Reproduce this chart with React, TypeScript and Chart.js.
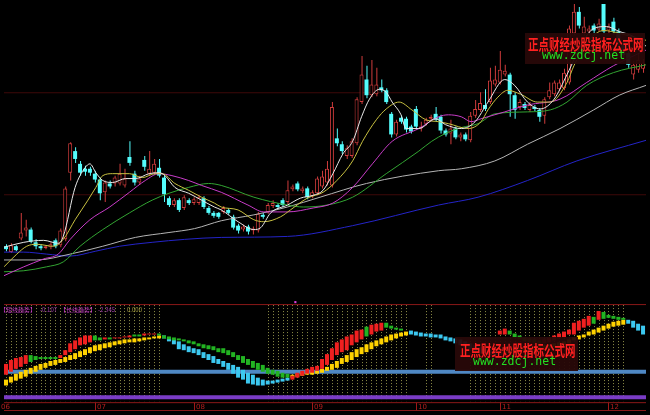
import React, { useEffect, useRef } from 'react';
import { Chart, registerables } from 'chart.js';

Chart.register(...registerables);

// ---------- price candles (k = 0..129) ----------
const OPEN = [
  7.53, 7.47, 7.53, 7.61, 7.69, 7.70, 7.57, 7.53, 7.51, 7.52,
  7.59, 7.54, 7.60, 8.28, 8.50, 8.37, 8.32, 8.32, 8.27, 8.21,
  8.08, 8.17, 8.17, 8.17, 8.15, 8.44, 8.27, 8.18, 8.41, 8.27,
  8.28, 8.33, 8.23, 8.02, 7.95, 8.00, 7.92, 8.00, 7.97, 7.97,
  8.02, 7.92, 7.87, 7.87, 7.88, 7.90, 7.83, 7.74, 7.70, 7.73,
  7.69, 7.69, 7.85, 7.88, 7.94, 7.95, 8.00, 7.98, 8.11, 8.17,
  8.09, 8.12, 8.04, 8.07, 8.14, 8.18, 8.15, 8.63, 8.57, 8.45,
  8.45, 8.58, 9.00, 9.23, 9.07, 9.08, 9.15, 9.12, 8.88, 8.67,
  8.84, 8.83, 8.75, 8.93, 8.73, 8.78, 8.83, 8.88, 8.85, 8.71,
  8.68, 8.73, 8.64, 8.67, 8.61, 8.86, 8.92, 8.97, 9.00, 9.18,
  9.20, 9.28, 9.28, 9.07, 8.95, 8.98, 8.92, 8.95, 8.92, 8.86,
  9.05, 9.08, 9.13, 9.14, 9.20, 9.70, 9.92, 9.70, 9.72, 9.78,
  9.74, 10.03, 9.73, 9.82, 9.72, 9.60, 9.50, 9.28, 9.33, 9.34,
];
const HIGH = [
  7.55, 7.56, 7.54, 7.87, 7.80, 7.72, 7.60, 7.55, 7.54, 7.57,
  7.61, 7.71, 8.14, 8.59, 8.54, 8.40, 8.35, 8.34, 8.30, 8.23,
  8.20, 8.20, 8.25, 8.37, 8.32, 8.60, 8.30, 8.25, 8.45, 8.50,
  8.42, 8.42, 8.25, 8.04, 8.02, 8.02, 8.05, 8.02, 8.03, 8.05,
  8.04, 7.94, 7.89, 7.88, 7.94, 7.92, 7.85, 7.76, 7.75, 7.75,
  7.73, 7.88, 7.87, 7.97, 8.00, 7.97, 8.02, 8.20, 8.16, 8.19,
  8.14, 8.14, 8.10, 8.24, 8.30, 8.40, 9.00, 8.73, 8.60, 8.56,
  8.63, 9.05, 9.47, 9.37, 9.43, 9.35, 9.23, 9.14, 8.90, 8.82,
  8.86, 8.85, 8.77, 8.96, 8.80, 8.84, 8.87, 8.95, 8.87, 8.73,
  8.82, 8.75, 8.69, 8.69, 8.90, 9.02, 9.10, 9.13, 9.35, 9.37,
  9.52, 9.38, 9.30, 9.10, 9.03, 9.00, 9.00, 8.97, 8.94, 9.05,
  9.20, 9.22, 9.23, 9.34, 9.78, 10.00, 9.97, 9.87, 9.78, 9.80,
  9.85, 10.05, 9.80, 9.86, 9.75, 9.62, 9.52, 9.42, 9.50, 9.44,
];
const LOW = [
  7.48, 7.46, 7.48, 7.59, 7.63, 7.56, 7.50, 7.49, 7.50, 7.50,
  7.51, 7.52, 7.58, 8.20, 8.38, 8.25, 8.25, 8.25, 8.18, 8.00,
  7.98, 8.12, 8.14, 8.15, 8.13, 8.35, 8.15, 8.16, 8.30, 8.25,
  8.26, 8.23, 7.98, 7.93, 7.93, 7.88, 7.90, 7.95, 7.95, 7.95,
  7.91, 7.85, 7.82, 7.81, 7.86, 7.85, 7.70, 7.66, 7.68, 7.65,
  7.65, 7.67, 7.81, 7.86, 7.92, 7.91, 7.93, 7.96, 8.09, 8.09,
  8.07, 8.01, 8.02, 8.05, 8.12, 8.15, 8.13, 8.55, 8.47, 8.42,
  8.43, 8.56, 8.98, 9.04, 9.05, 9.06, 9.10, 8.98, 8.64, 8.65,
  8.78, 8.69, 8.68, 8.72, 8.70, 8.76, 8.81, 8.80, 8.68, 8.65,
  8.57, 8.62, 8.60, 8.60, 8.59, 8.84, 8.90, 8.91, 8.98, 9.16,
  9.18, 9.26, 8.85, 8.83, 8.92, 8.92, 8.90, 8.91, 8.80, 8.78,
  9.03, 9.06, 9.11, 9.12, 9.18, 9.68, 9.75, 9.67, 9.68, 9.70,
  9.72, 9.70, 9.70, 9.69, 9.57, 9.45, 9.35, 9.23, 9.30, 9.30,
];
const CLOSE = [
  7.50, 7.54, 7.49, 7.67, 7.72, 7.58, 7.53, 7.51, 7.53, 7.55,
  7.53, 7.69, 8.12, 8.58, 8.42, 8.28, 8.29, 8.28, 8.21, 8.07,
  8.18, 8.14, 8.23, 8.27, 8.22, 8.38, 8.18, 8.22, 8.34, 8.32,
  8.37, 8.25, 8.06, 7.95, 8.00, 7.90, 8.03, 7.97, 8.01, 8.03,
  7.93, 7.87, 7.84, 7.83, 7.92, 7.87, 7.72, 7.69, 7.73, 7.68,
  7.71, 7.86, 7.83, 7.95, 7.97, 7.93, 7.95, 8.10, 8.14, 8.11,
  8.12, 8.03, 8.08, 8.22, 8.24, 8.32, 8.95, 8.58, 8.50, 8.53,
  8.60, 9.03, 9.28, 9.07, 9.18, 9.18, 9.12, 9.00, 8.67, 8.80,
  8.80, 8.72, 8.70, 8.75, 8.75, 8.82, 8.85, 8.82, 8.71, 8.67,
  8.73, 8.64, 8.67, 8.62, 8.86, 8.93, 8.99, 8.93, 9.22, 9.23,
  9.33, 9.32, 9.08, 8.92, 9.00, 8.94, 8.97, 8.93, 8.85, 9.03,
  9.12, 9.20, 9.20, 9.30, 9.75, 9.92, 9.78, 9.77, 9.75, 9.73,
  9.80, 9.72, 9.77, 9.72, 9.60, 9.48, 9.38, 9.38, 9.43, 9.40,
];

// ---------- moving averages, read as [index, price] ----------
const MA5: [number, number][] = [
  [-0.4, 7.52], [3.6, 7.57], [7.6, 7.59], [10.6, 7.56], [11.6, 7.63], [14.0, 8.13], [16.0, 8.33],
  [17.0, 8.37], [18.2, 8.28], [19.6, 8.20], [21.6, 8.18], [24.2, 8.22], [26.2, 8.22], [29.0, 8.27],
  [31.0, 8.28], [32.2, 8.25], [34.2, 8.13], [37.0, 8.07], [39.6, 8.00], [42.2, 7.93], [43.6, 7.90],
  [47.0, 7.78], [50.2, 7.70], [51.6, 7.72], [53.6, 7.87], [57.0, 7.95], [59.6, 8.02], [62.2, 8.05],
  [64.2, 8.10], [66.2, 8.27], [68.2, 8.47], [70.2, 8.60], [72.0, 8.85], [73.6, 9.03], [75.6, 9.13],
  [77.0, 9.10], [78.2, 9.00], [80.0, 8.87], [81.0, 8.73], [83.6, 8.73], [87.0, 8.83], [89.0, 8.77],
  [92.2, 8.73], [95.0, 8.80], [97.6, 9.00], [101.0, 9.23], [103.0, 9.17], [105.6, 9.00], [108.2, 8.93],
  [111.0, 9.03], [113.6, 9.28], [117.0, 9.63], [119.0, 9.75], [121.6, 9.77], [124.2, 9.72], [127.0, 9.67],
  [129.6, 9.57],
];
const MA10: [number, number][] = [
  [-0.4, 7.32], [2.2, 7.45], [4.2, 7.53], [6.2, 7.55], [9.6, 7.53], [11.6, 7.60], [14.0, 7.80],
  [16.6, 8.00], [18.2, 8.13], [19.6, 8.25], [21.6, 8.27], [25.0, 8.27], [27.6, 8.23], [30.2, 8.27],
  [31.6, 8.27], [34.2, 8.17], [37.0, 8.10], [39.6, 8.03], [42.2, 7.97], [43.6, 7.93], [47.0, 7.90],
  [50.2, 7.80], [52.2, 7.78], [55.6, 7.83], [57.6, 7.90], [61.0, 8.02], [64.2, 8.08], [67.0, 8.20],
  [70.2, 8.40], [72.2, 8.60], [75.0, 8.82], [77.0, 8.93], [79.6, 9.00], [82.2, 8.92], [85.0, 8.82],
  [87.6, 8.80], [89.6, 8.78], [93.6, 8.73], [96.2, 8.80], [97.6, 8.92], [99.6, 9.05], [101.6, 9.12],
  [104.2, 9.08], [107.6, 9.00], [110.2, 9.00], [113.6, 9.20], [115.0, 9.37], [117.6, 9.60], [121.0, 9.73],
  [124.2, 9.70], [129.6, 9.63],
];
const MA20: [number, number][] = [
  [-0.4, 7.23], [3.6, 7.32], [7.6, 7.40], [10.6, 7.45], [13.0, 7.60], [17.0, 7.80], [21.0, 7.93],
  [25.0, 8.08], [28.2, 8.20], [31.0, 8.27], [33.6, 8.25], [37.0, 8.20], [39.6, 8.15], [43.6, 8.08],
  [49.0, 7.95], [52.2, 7.88], [57.0, 7.88], [62.2, 7.92], [66.2, 7.97], [70.2, 8.13], [74.2, 8.37],
  [78.2, 8.60], [83.6, 8.73], [87.6, 8.85], [89.6, 8.87], [92.2, 8.85], [94.2, 8.80], [96.2, 8.83],
  [101.0, 8.90], [105.6, 8.97], [112.2, 9.03], [117.6, 9.20], [123.0, 9.37], [129.6, 9.53],
];
const MA30: [number, number][] = [
  [-0.4, 7.27], [3.6, 7.28], [8.2, 7.32], [11.6, 7.37], [15.0, 7.53], [19.6, 7.70], [25.0, 7.87],
  [29.6, 8.00], [33.0, 8.07], [37.0, 8.13], [41.0, 8.17], [43.6, 8.15], [50.2, 8.03], [57.0, 7.95],
  [60.2, 7.93], [65.0, 7.95], [70.2, 8.03], [77.0, 8.27], [83.6, 8.50], [86.2, 8.60], [89.0, 8.68],
  [92.2, 8.74], [95.6, 8.78], [99.0, 8.88], [105.6, 8.90], [110.2, 8.92], [113.6, 9.00], [117.6, 9.17],
  [123.0, 9.30], [129.6, 9.38],
];
const MA60: [number, number][] = [
  [-0.4, 7.39], [6.2, 7.39], [13.0, 7.45], [19.6, 7.53], [26.2, 7.62], [33.0, 7.67], [38.2, 7.71],
  [43.6, 7.79], [50.2, 7.85], [57.0, 7.93], [63.6, 8.03], [73.0, 8.17], [87.6, 8.30], [92.2, 8.32],
  [99.0, 8.40], [105.6, 8.57], [112.2, 8.73], [119.0, 8.92], [124.2, 9.07], [129.6, 9.17],
];
const MA120: [number, number][] = [
  [-0.4, 7.47], [3.6, 7.47], [8.2, 7.45], [13.0, 7.43], [18.2, 7.48], [23.0, 7.53], [29.6, 7.57],
  [36.2, 7.60], [43.6, 7.62], [57.0, 7.63], [70.2, 7.74], [87.6, 7.95], [95.6, 8.03], [105.6, 8.20],
  [115.6, 8.40], [129.6, 8.61],
];

// ---------- indicator sticks (lower panel) ----------
const SHORT_HI: (number | null)[] = [
  0.08, 0.12, 0.14, 0.15, 0.17, 0.17, 0.16, 0.15, 0.15, 0.15,
  0.15, 0.17, 0.22, 0.29, 0.32, 0.35, 0.37, 0.37, 0.37, 0.35,
  0.35, 0.35, 0.35, 0.35, 0.36, 0.37, 0.38, 0.38, 0.39, 0.39,
  0.39, 0.39, 0.37, 0.36, 0.35, 0.34, 0.33, 0.32, 0.31, 0.29,
  0.28, 0.27, 0.26, 0.24, 0.24, 0.22, 0.20, 0.17, 0.16, 0.13,
  0.11, 0.09, 0.07, 0.04, 0.02, 0.01, -0.01, -0.02, -0.04, -0.01,
  0.01, 0.03, 0.05, 0.06, 0.13, 0.18, 0.24, 0.30, 0.33, 0.36,
  0.38, 0.42, 0.43, 0.46, 0.48, 0.49, 0.50, 0.50, 0.47, 0.45,
  0.44, null, null, null, null, null, null, null, null, null,
  null, null, null, null, null, null, null, null, null, null,
  0.42, 0.44, 0.42, 0.39, 0.37, 0.35, 0.34, 0.33, 0.32, 0.33,
  0.35, 0.37, 0.39, 0.41, 0.43, 0.50, 0.52, 0.54, 0.57, 0.56,
  0.62, 0.61, 0.58, 0.57, 0.56, 0.55, null, null, null, null,
];
const SHORT_LO: (number | null)[] = [
  -0.03, 0.00, 0.03, 0.05, 0.08, 0.10, 0.12, 0.13, 0.13, 0.13,
  0.13, 0.14, 0.17, 0.20, 0.23, 0.27, 0.28, 0.30, 0.32, 0.32,
  0.33, 0.33, 0.34, 0.34, 0.35, 0.35, 0.36, 0.36, 0.37, 0.38,
  0.38, 0.37, 0.34, 0.33, 0.32, 0.32, 0.31, 0.29, 0.28, 0.26,
  0.24, 0.23, 0.22, 0.20, 0.19, 0.17, 0.15, 0.12, 0.09, 0.07,
  0.04, 0.02, 0.00, -0.02, -0.03, -0.05, -0.06, -0.06, -0.08, -0.06,
  -0.04, -0.02, -0.01, 0.01, 0.03, 0.07, 0.12, 0.17, 0.20, 0.22,
  0.27, 0.30, 0.33, 0.36, 0.38, 0.41, 0.42, 0.45, 0.44, 0.43,
  0.42, null, null, null, null, null, null, null, null, null,
  null, null, null, null, null, null, null, null, null, null,
  0.38, 0.38, 0.38, 0.35, 0.33, 0.31, 0.30, 0.29, 0.28, 0.29,
  0.30, 0.32, 0.34, 0.35, 0.38, 0.38, 0.42, 0.45, 0.47, 0.49,
  0.53, 0.54, 0.55, 0.54, 0.53, 0.53, null, null, null, null,
];
const SHORT_DIR =
  'rrrrrggggg' + 'grrrrrrrgg' + 'rgrrrrggrr' + 'rggggggggg' + 'gggggggggg' +
  'ggggggggrr' + 'rrrrrrrrrr' + 'rrrgrrrggg' + 'g.........' + '..........' +
  'rrgggggggr' + 'rrrrrrrrrg' + 'rggggg....';

const LONG_HI: number[] = [
  -0.08, -0.05, -0.02, 0.00, 0.02, 0.04, 0.06, 0.08, 0.09, 0.11,
  0.12, 0.13, 0.15, 0.17, 0.19, 0.21, 0.23, 0.25, 0.27, 0.28,
  0.29, 0.30, 0.31, 0.32, 0.33, 0.33, 0.34, 0.34, 0.35, 0.35,
  0.36, 0.37, 0.37, 0.35, 0.33, 0.31, 0.28, 0.26, 0.24, 0.23,
  0.20, 0.18, 0.16, 0.13, 0.11, 0.09, 0.07, 0.05, 0.02, -0.01,
  -0.03, -0.06, -0.08, -0.09, -0.09, -0.08, -0.07, -0.06, -0.03, -0.02,
  -0.01, -0.01, 0.00, 0.01, 0.03, 0.05, 0.08, 0.11, 0.14, 0.17,
  0.20, 0.23, 0.25, 0.28, 0.30, 0.32, 0.34, 0.36, 0.38, 0.39,
  0.40, 0.41, 0.42, 0.41, 0.40, 0.39, 0.39, 0.38, 0.38, 0.36,
  0.35, 0.34, 0.33, 0.31, 0.29, 0.27, 0.25, 0.23, 0.22, 0.21,
  0.21, 0.22, 0.23, 0.24, 0.24, 0.25, 0.25, 0.26, 0.26, 0.27,
  0.28, 0.29, 0.30, 0.31, 0.33, 0.35, 0.37, 0.38, 0.41, 0.43,
  0.45, 0.47, 0.49, 0.51, 0.52, 0.53, 0.53, 0.52, 0.49, 0.47,
];
const LONG_LO: number[] = [
  -0.14, -0.11, -0.09, -0.07, -0.05, -0.02, 0.00, 0.02, 0.04, 0.06,
  0.07, 0.09, 0.10, 0.12, 0.13, 0.15, 0.17, 0.19, 0.21, 0.22,
  0.24, 0.25, 0.27, 0.28, 0.29, 0.30, 0.30, 0.31, 0.32, 0.33,
  0.34, 0.34, 0.34, 0.31, 0.28, 0.23, 0.22, 0.20, 0.19, 0.17,
  0.14, 0.12, 0.09, 0.08, 0.05, 0.02, -0.02, -0.06, -0.08, -0.12,
  -0.13, -0.14, -0.14, -0.13, -0.12, -0.11, -0.10, -0.09, -0.06, -0.05,
  -0.04, -0.03, -0.03, -0.02, -0.01, 0.01, 0.02, 0.04, 0.08, 0.10,
  0.12, 0.15, 0.18, 0.20, 0.23, 0.26, 0.28, 0.30, 0.32, 0.34,
  0.36, 0.37, 0.38, 0.37, 0.36, 0.36, 0.35, 0.35, 0.34, 0.32,
  0.31, 0.29, 0.27, 0.25, 0.23, 0.21, 0.19, 0.18, 0.17, 0.17,
  0.17, 0.18, 0.19, 0.20, 0.20, 0.21, 0.21, 0.22, 0.22, 0.23,
  0.24, 0.25, 0.26, 0.27, 0.29, 0.32, 0.33, 0.35, 0.37, 0.38,
  0.40, 0.42, 0.44, 0.46, 0.47, 0.48, 0.49, 0.45, 0.42, 0.38,
];
const LONG_DIR =
  'yyyyyyyyyy' + 'yyyyyyyyyy' + 'yyyyyyyyyy' + 'yycccccccc' + 'cccccccccc' +
  'ccccccccyy' + 'yyyyyyyyyy' + 'yyyyyyyyyy' + 'yycccccccc' + 'cccccccccc' +
  'cyyyyyyyyy' + 'yyyyyyyyyy' + 'yyyyyycccc';

const SIGNAL_RANGES: [number, number][] = [[0, 31], [53, 81], [85, 86], [94, 125]];
const MARKS = [{ x: 58.6, y: 0.71 }];

const MONTH_LABELS = ['06', '07', '08', '09', '10', '11', '12'];
const MONTH_POS = [-1.5, 18, 38, 62, 83, 100, 122];

const PRICE_GRID = [9.095, 8.055];
const IND_GRID = [0.685, -0.315, -0.395];
const IND_ZERO = 0;
const IND_FLOOR = -0.26;
const SIGNAL_TOP = 0.68;
const SIGNAL_BOTTOM = -0.3;

const HEADER_TEXTS = ['【短线趋势】', '-0.107', '【长线趋势】', '-2.345', '0.000'];
const WM_TITLE = '正点财经炒股指标公式网';
const WM_URL = 'www.zdcj.net';

// ---------- scale ranges ----------
const X_MIN = -0.4, X_MAX = 129.6;
const XW_MIN = -0.5, XW_MAX = 129.5;
const PRICE_MIN = 5.85, PRICE_MAX = 10.0;
const IND_MIN = -0.4, IND_MAX = 3.75;

const UP = '#d03c3c';
const DOWN = '#54fcfc';

function buildSticks(hi: (number | null)[], lo: (number | null)[], dir: string, upKey: string, upColor: string, downColor: string) {
  const data: any[] = [];
  const colors: string[] = [];
  hi.forEach((h, k) => {
    const l = lo[k];
    if (h == null || l == null || dir[k] === '.') return;
    data.push({ x: k, y: [l, h] });
    colors.push(dir[k] === upKey ? upColor : downColor);
  });
  return { data, colors };
}

function hline(v: number, color: string, width: number, yAxisID: string, order: number) {
  return {
    type: 'line',
    data: [{ x: X_MIN, y: v }, { x: X_MAX, y: v }],
    borderColor: color,
    borderWidth: width,
    pointRadius: 0,
    xAxisID: 'x',
    yAxisID,
    order,
  };
}

function maLine(pts: [number, number][], color: string, order: number) {
  return {
    type: 'line',
    data: pts.map(([x, y]) => ({ x, y })),
    borderColor: color,
    borderWidth: 1,
    pointRadius: 0,
    cubicInterpolationMode: 'monotone',
    xAxisID: 'x',
    yAxisID: 'y',
    order,
  };
}

const overlayPlugin = {
  id: 'overlay',
  beforeDatasetsDraw(chart: any) {
    const { ctx } = chart;
    const xs = chart.scales.x;
    const y2 = chart.scales.y2;
    const top = y2.getPixelForValue(SIGNAL_TOP);
    const bottom = y2.getPixelForValue(SIGNAL_BOTTOM);
    ctx.save();
    ctx.strokeStyle = '#8e8e48';
    ctx.lineWidth = 1;
    ctx.setLineDash([1, 2]);
    SIGNAL_RANGES.forEach(([a, b]) => {
      for (let k = a; k <= b; k++) {
        const px = Math.round(xs.getPixelForValue(k)) + 0.5;
        ctx.beginPath();
        ctx.moveTo(px, top);
        ctx.lineTo(px, bottom);
        ctx.stroke();
      }
    });
    ctx.restore();
  },
  afterDraw(chart: any) {
    const { ctx } = chart;
    const xs = chart.scales.x;
    const y2 = chart.scales.y2;
    const t = y2.getPixelForValue(IND_GRID[1]);
    const b = y2.getPixelForValue(IND_GRID[2]);
    ctx.save();
    ctx.strokeStyle = '#a01818';
    ctx.fillStyle = '#b41e1e';
    ctx.lineWidth = 1;
    ctx.font = '7px "DejaVu Sans"';
    ctx.textBaseline = 'middle';
    MONTH_LABELS.forEach((lab, i) => {
      const px = Math.round(xs.getPixelForValue(MONTH_POS[i])) + 0.5;
      ctx.beginPath();
      ctx.moveTo(px, t);
      ctx.lineTo(px, b);
      ctx.stroke();
      ctx.fillText(lab, px + 1.5, (t + b) / 2 + 0.5);
    });
    ctx.restore();
  },
};

export default function App() {
  const ref = useRef<HTMLCanvasElement | null>(null);

  useEffect(() => {
    if (!ref.current) return;
    const ks = OPEN.map((_, k) => k);
    const up = ks.map((k) => CLOSE[k] >= OPEN[k]);
    const shortSticks = buildSticks(SHORT_HI, SHORT_LO, SHORT_DIR, 'r', '#f02020', '#22b422');
    const longSticks = buildSticks(LONG_HI, LONG_LO, LONG_DIR, 'y', '#ffd200', '#3cc8f0');

    const datasets: any[] = [
      ...PRICE_GRID.map((v) => hline(v, '#3e0808', 1, 'y', 30)),
      ...IND_GRID.map((v) => hline(v, '#8a1818', 1, 'y2', 30)),
      hline(IND_ZERO, '#4f88c4', 4, 'y2', 25),
      hline(IND_FLOOR, '#7a3cc6', 4, 'y2', 25),
      {
        type: 'bar',
        data: ks.map((k) => ({ x: k, y: [LOW[k], HIGH[k]] })),
        backgroundColor: ks.map((k) => (up[k] ? UP : DOWN)),
        barThickness: 1,
        grouped: false,
        inflateAmount: 0,
        borderWidth: 0,
        xAxisID: 'xw',
        yAxisID: 'y',
        order: 20,
      },
      {
        type: 'bar',
        data: ks.map((k) => ({ x: k, y: [OPEN[k], CLOSE[k]] })),
        backgroundColor: ks.map((k) => (up[k] ? '#000000' : DOWN)),
        borderColor: ks.map((k) => (up[k] ? UP : DOWN)),
        borderWidth: ks.map((k) => (up[k] ? 1 : 0)),
        borderSkipped: false,
        barThickness: 4,
        minBarLength: 1,
        grouped: false,
        inflateAmount: 0,
        xAxisID: 'x',
        yAxisID: 'y',
        order: 19,
      },
      maLine(MA120, '#2424c8', 12),
      maLine(MA60, '#b4b4b4', 11),
      maLine(MA30, '#32a432', 10),
      maLine(MA20, '#c83cc8', 9),
      maLine(MA10, '#c8c040', 8),
      maLine(MA5, '#e8e8e8', 7),
      {
        type: 'bar',
        data: longSticks.data,
        backgroundColor: longSticks.colors,
        barThickness: 4,
        grouped: false,
        inflateAmount: 0,
        borderWidth: 0,
        xAxisID: 'x',
        yAxisID: 'y2',
        order: 6,
      },
      {
        type: 'bar',
        data: shortSticks.data,
        backgroundColor: shortSticks.colors,
        barThickness: 4,
        grouped: false,
        inflateAmount: 0,
        borderWidth: 0,
        xAxisID: 'x',
        yAxisID: 'y2',
        order: 5,
      },
      {
        type: 'line',
        data: MARKS,
        showLine: false,
        pointStyle: 'rect',
        pointRadius: 1.5,
        pointBackgroundColor: '#e040e0',
        pointBorderWidth: 0,
        xAxisID: 'x',
        yAxisID: 'y2',
        order: 1,
      },
    ];

    const chart = new Chart(ref.current, {
      type: 'bar',
      data: { datasets },
      options: {
        responsive: false,
        maintainAspectRatio: false,
        animation: false,
        devicePixelRatio: 1,
        events: [],
        layout: { padding: 0 },
        plugins: { legend: { display: false }, tooltip: { enabled: false } },
        scales: {
          x: { type: 'linear', min: X_MIN, max: X_MAX, display: false, offset: false },
          xw: { type: 'linear', axis: 'x', min: XW_MIN, max: XW_MAX, display: false, offset: false },
          y: { type: 'linear', min: PRICE_MIN, max: PRICE_MAX, display: false },
          y2: { type: 'linear', axis: 'y', min: IND_MIN, max: IND_MAX, display: false },
        },
      } as any,
      plugins: [overlayPlugin],
    } as any);
    return () => chart.destroy();
  }, []);

  const cjk = '"Noto Sans CJK SC", "Noto Sans", sans-serif';
  const headerLeft = [0, 40, 60, 98, 127];
  const headerColor = ['#c23cc2', '#a03ca8', '#c23cc2', '#a03ca8', '#a8a040'];

  return (
    <div style={{ position: 'fixed', left: 0, top: 0, width: 650, height: 415, background: '#000', overflow: 'hidden' }}>
      <canvas ref={ref} width={650} height={415} style={{ display: 'block', width: 650, height: 415 }} />
      {HEADER_TEXTS.map((t, i) => (
        <span key={i} style={{ position: 'absolute', left: headerLeft[i], top: 307, fontSize: 6, lineHeight: '6px', color: headerColor[i], fontFamily: cjk, whiteSpace: 'nowrap' }}>{t}</span>
      ))}
      {/* watermark, upper panel */}
      <div style={{ position: 'absolute', left: 525, top: 33, width: 120, height: 31, background: 'rgba(40,8,8,0.95)' }} />
      <span style={{ position: 'absolute', left: 528, top: 36, fontSize: 15, lineHeight: '15px', color: '#ff2020', fontFamily: cjk, fontWeight: 700, whiteSpace: 'nowrap', transform: 'scaleX(0.7)', transformOrigin: '0 0' }}>{WM_TITLE}</span>
      <span style={{ position: 'absolute', left: 542, top: 50, fontSize: 11.5, lineHeight: '11.5px', color: '#22e022', fontFamily: '"DejaVu Sans Mono", monospace', whiteSpace: 'nowrap' }}>{WM_URL}</span>
      {/* watermark, lower panel */}
      <div style={{ position: 'absolute', left: 455, top: 337, width: 123, height: 34, background: 'rgba(40,8,8,0.95)' }} />
      <span style={{ position: 'absolute', left: 460, top: 342, fontSize: 15, lineHeight: '15px', color: '#ff2020', fontFamily: cjk, fontWeight: 700, whiteSpace: 'nowrap', transform: 'scaleX(0.7)', transformOrigin: '0 0' }}>{WM_TITLE}</span>
      <span style={{ position: 'absolute', left: 473, top: 356, fontSize: 11.5, lineHeight: '11.5px', color: '#22e022', fontFamily: '"DejaVu Sans Mono", monospace', whiteSpace: 'nowrap' }}>{WM_URL}</span>
    </div>
  );
}
